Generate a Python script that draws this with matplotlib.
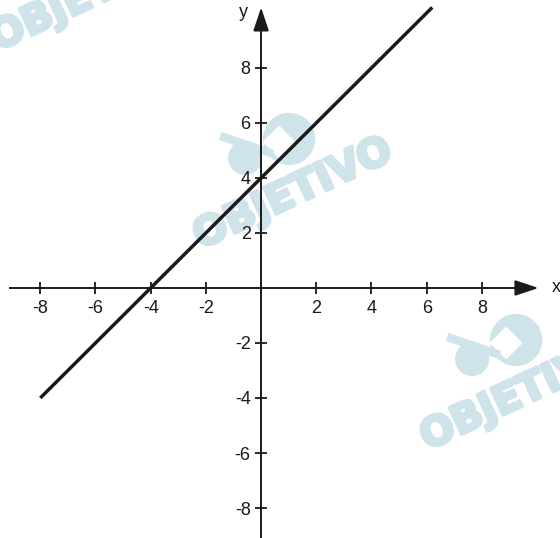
import numpy as np
import matplotlib.pyplot as plt
import matplotlib.patheffects as pe
from matplotlib.patches import Circle, Polygon

plt.rcParams['font.family'] = ['Liberation Sans', 'DejaVu Sans']
plt.rcParams['axes.unicode_minus'] = False

# line y = x + 4
line_x = [-8, 6.2]
line_y = [-4, 10.2]

xticks = [-8, -6, -4, -2, 2, 4, 6, 8]
yticks = [-8, -6, -4, -2, 2, 4, 6, 8]

wm_color = '#cfe3eb'
ink = '#1a1a1a'

fig = plt.figure(figsize=(5.6, 5.38), dpi=100)
ax = fig.add_axes([0, 0, 1, 1])
ax.set_xlim(-9.46, 10.83)
ax.set_ylim(-9.09, 10.47)

def px(x, y):
    # pixel position -> data coordinates (watermark only)
    return (x - 261) / 27.6, (288 - y) / 27.5

def watermark(cx, cy, with_logo=True):
    tx, ty = px(cx, cy)
    ax.text(tx, ty, 'OBJETIVO', fontsize=29, fontweight='bold',
            family='DejaVu Sans', color=wm_color, rotation=25,
            ha='center', va='center', zorder=0,
            path_effects=[pe.withStroke(linewidth=2.5, foreground=wm_color)])
    if with_logo:
        bx, by = px(cx - 4, cy - 55)
        ax.add_patch(Circle((bx, by), 0.95, color=wm_color, zorder=0, lw=0))
        wx, wy = px(cx - 14, cy - 52)
        ax.add_patch(Polygon([(wx - 0.6, wy), (wx, wy + 0.6), (wx + 0.6, wy), (wx, wy - 0.6)],
                             closed=True, color='white', zorder=0, lw=0))
        sx, sy = px(cx - 48, cy - 36)
        ax.add_patch(Circle((sx, sy), 0.62, color=wm_color, zorder=0, lw=0))
        ax.plot([sx - 0.9, sx + 1.0], [sy + 0.8, sy + 0.15], color=wm_color,
                lw=6, solid_capstyle='butt', zorder=0)

watermark(293, 194)
watermark(520, 395)
watermark(90, -4, with_logo=False)

# axes through the origin
for s in ['top', 'right']:
    ax.spines[s].set_visible(False)
ax.spines['left'].set_position(('data', 0))
ax.spines['bottom'].set_position(('data', 0))
ax.spines['bottom'].set_bounds(-9.1, 9.6)
ax.spines['left'].set_bounds(-9.2, 9.8)
for s in ['left', 'bottom']:
    ax.spines[s].set_linewidth(1.4)
    ax.spines[s].set_color(ink)
    ax.spines[s].set_zorder(2)

ax.set_xticks(xticks)
ax.set_yticks(yticks)
ax.set_xticklabels([str(t) for t in xticks])
ax.set_yticklabels([str(t) for t in yticks])
ax.tick_params(direction='inout', length=9, width=1.3, color=ink,
               labelsize=13, labelcolor=ink)
ax.tick_params(axis='x', pad=4)
ax.tick_params(axis='y', pad=3)

# arrow heads
arrow = dict(arrowstyle='-|>,head_length=0.72,head_width=0.24',
             mutation_scale=20, color=ink, lw=1.4)
ax.annotate('', xy=(10.15, 0), xytext=(9.5, 0), arrowprops=arrow)
ax.annotate('', xy=(0, 10.3), xytext=(0, 9.6), arrowprops=arrow)
ax.text(10.55, 0, 'x', fontsize=13, color=ink, ha='left', va='center')
ax.text(-0.65, 10.0, 'y', fontsize=13, color=ink, ha='center', va='center')

# the line
ax.plot(line_x, line_y, color=ink, lw=2.5, solid_capstyle='butt', zorder=3)

fig.savefig('out.png', dpi=100, facecolor='white')
